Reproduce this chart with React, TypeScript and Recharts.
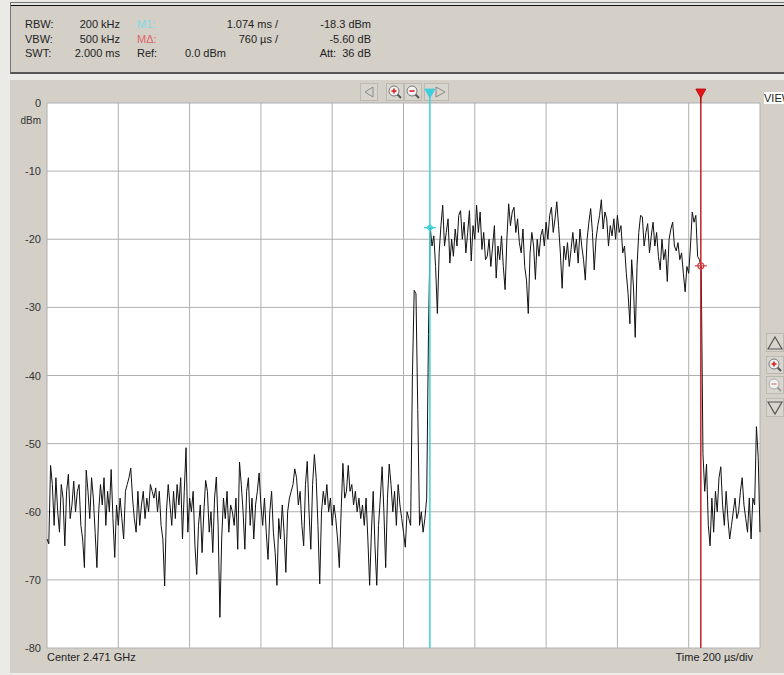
import React from 'react';
import { LineChart, Line, XAxis, YAxis, CartesianGrid, ReferenceLine, ReferenceDot } from 'recharts';

// sweep: 2.000 ms, 401 points (5 µs step)
const SWEEP_STEP_US = 5;

// trace levels in dBm
const noiseBefore = [
  -64, -64.7, -53.2, -56, -62, -55, -60, -63, -56, -58,
  -65, -57, -54.5, -61, -59, -55.5, -60, -57, -56, -62,
  -64, -68.2, -53.9, -57, -61, -55, -58, -63, -68.2, -60,
  -56, -59, -55, -62, -57, -60, -53.8, -61, -66.7, -59,
  -62, -58, -61, -64, -57, -56, -55, -53.6, -58, -61,
  -63, -57, -62, -59, -57, -61, -58, -60, -56, -57,
  -58, -56.5, -60, -57, -62, -64, -70.9, -60, -56, -59,
  -62, -57, -61, -56, -59, -55, -64, -57, -50.6, -63,
  -58, -60, -57, -65, -69.2, -62, -59, -66, -60, -55.4,
  -57, -63, -60, -66, -58, -54.9, -62, -75.5, -64, -58,
  -61, -57, -63, -59, -60, -62, -58, -65.5, -52.7, -56,
  -60, -65.5, -57, -55, -62, -58, -64, -59, -57, -54.3,
  -59, -62, -58, -63, -67, -60, -57, -63, -66, -70.8,
  -61, -64, -59, -63, -68.9, -60, -58, -57, -56, -53.7,
  -55, -59, -57, -62, -65, -56, -52.6, -60, -65.5, -56,
  -51.6, -55, -62, -70.6, -60, -57, -59, -56, -60, -58,
  -62, -59, -61, -64, -68.2, -60, -52.9, -58, -57, -53.2,
  -57, -56, -59, -57, -60, -58, -61, -59, -62, -58,
  -64, -70.8, -63, -57, -65, -70.8, -62, -58, -53.4, -60,
  -68.2, -58, -53, -56, -60, -57, -62, -56, -59, -61,
  -63, -65.2, -60, -61, -62,
];
const burstEdge = [-40, -27.5, -28, -45, -62, -60, -63, -61, -58, -34, -18.3];
const signalOn = [
  -21, -19.5, -24, -30.9, -22, -18, -15, -21, -19, -17,
  -23.5, -20, -22.5, -18.5, -21, -16.5, -15.8, -20, -17.5, -22,
  -19, -15.8, -23.2, -18, -20, -15, -19, -16, -21.5, -19,
  -23, -22.5, -20, -24, -21, -18, -25.7, -21, -23, -19.5,
  -24, -27.4, -20, -14.8, -18, -16, -15.3, -19, -17, -20.5,
  -22, -18.5, -24, -26, -30.9, -22, -19, -21, -25.9, -20,
  -22.5, -19.5, -18.5, -21, -17.5, -20, -16.5, -15.3, -19, -17,
  -14.5, -18, -22, -27.2, -21, -23, -20.5, -24, -21.5, -19,
  -22, -20, -23.5, -18.5, -21, -23, -26, -20, -17.5, -15.5,
  -19, -24.5, -20, -18, -16.5, -14.2, -18.5, -16, -17, -21,
  -18, -19.5, -17, -20, -16.5, -19, -18, -22, -21, -25,
  -28, -32.4, -23, -27, -34.4, -24, -19, -16.5, -16.7, -21,
  -19, -17.7, -22, -19.5, -17.5, -21, -19, -22.5, -24.5, -20,
  -23, -21.5, -26.2, -20, -18.5, -17.5, -21, -21.7, -20.5, -23,
  -22, -25, -27.7, -24, -25, -21, -16, -17.5, -16.5, -22.5, -23,
];
const afterBurst = [
  -24, -51.5, -57, -53, -62, -65, -58, -63, -57, -60,
  -55, -53.4, -59, -62, -57, -61, -64, -62, -60, -58,
  -61, -60, -57, -55, -59, -61, -63, -58, -64, -58,
  -59, -47.5, -52, -63,
];

const levelDbm = [...noiseBefore, ...burstEdge, ...signalOn, ...afterBurst];
const traceData = levelDbm.map((v, i) => ({ t: i * SWEEP_STEP_US, v }));

const timeTicksUs = [0, 200, 400, 600, 800, 1000, 1200, 1400, 1600, 1800, 2000];
const levelTicksDbm = [0, -10, -20, -30, -40, -50, -60, -70, -80];

const marker1 = { t: 1074, level: -18.3 };
const markerDelta = { t: 1834, level: -23.9 };

const FONT = '"Liberation Sans", Arial, sans-serif';
const PANEL = '#d4d0c8';
const CYAN = '#3fcfdc';
const RED = '#c8202a';

const LevelTick = (props: any) => {
  const { x, y, payload } = props;
  return (
    <g>
      <text x={x} y={y} dy={4} textAnchor="end" fontSize={11} fill="#333" fontFamily={FONT}>
        {payload.value}
      </text>
      {payload.value === 0 && (
        <text x={x} y={y} dy={21} textAnchor="end" fontSize={10} fill="#333" fontFamily={FONT}>
          dBm
        </text>
      )}
    </g>
  );
};

const markerFlag = (color: string, fill: string) => (props: any) => {
  const vb = props.viewBox || {};
  const x = vb.x;
  const top = vb.y;
  if (x == null || top == null) return null;
  return (
    <g>
      <line x1={x} x2={x} y1={top - 7} y2={top} stroke={color} strokeWidth={1.5} />
      <polygon points={`${x - 5},${top - 14} ${x + 5},${top - 14} ${x},${top - 5}`} fill={fill} stroke={color} strokeWidth={0.8} />
    </g>
  );
};

const M1Dot = (props: any) => {
  const { cx, cy } = props;
  return (
    <g stroke={CYAN} strokeWidth={1.3} fill="none">
      <line x1={cx - 6} x2={cx + 6} y1={cy} y2={cy} />
      <polygon points={`${cx},${cy - 3} ${cx + 3},${cy} ${cx},${cy + 3} ${cx - 3},${cy}`} />
    </g>
  );
};

const DeltaDot = (props: any) => {
  const { cx, cy } = props;
  return (
    <g stroke="#d04040" strokeWidth={1.2} fill="none">
      <circle cx={cx} cy={cy} r={3} />
      <line x1={cx - 6} x2={cx + 6} y1={cy} y2={cy} />
    </g>
  );
};

const Btn = ({ left, top, w, h, children }: any) => (
  <div style={{ position: 'absolute', left, top, width: w, height: h, boxSizing: 'border-box', border: '1px solid #bcb9b1', background: '#d8d5ce' }}>
    <svg width={w - 2} height={h - 2} style={{ display: 'block' }}>{children}</svg>
  </div>
);

const Magnifier = ({ plus, faded }: { plus: boolean; faded?: boolean }) => (
  <g>
    <line x1={10} y1={10} x2={14} y2={14} stroke={faded ? '#999' : '#555'} strokeWidth={2} />
    <circle cx={7} cy={7} r={5} fill="#f2f2f2" stroke={faded ? '#aaa' : '#777'} strokeWidth={1} />
    <line x1={4.5} y1={7} x2={9.5} y2={7} stroke={faded ? '#d99' : '#e02020'} strokeWidth={1.6} />
    {plus && <line x1={7} y1={4.5} x2={7} y2={9.5} stroke="#e02020" strokeWidth={1.6} />}
  </g>
);

const hdr: React.CSSProperties = { position: 'absolute', fontFamily: FONT, fontSize: 11, color: '#222', whiteSpace: 'nowrap', lineHeight: '13px' };

export default function App() {
  return (
    <div style={{ position: 'absolute', left: 0, top: 0, width: 784, height: 675, overflow: 'hidden', background: '#eceae6' }}>
      {/* header */}
      <div style={{ position: 'absolute', left: 10, top: 2, width: 774, height: 72, boxSizing: 'border-box', background: PANEL, borderTop: '1px solid #777', borderLeft: '1px solid #777', borderBottom: '2px solid #555' }} />
      <div style={{ position: 'absolute', left: 11, top: 3, width: 773, height: 2, background: '#e6e4df' }} />
      <div style={{ position: 'absolute', left: 11, top: 5, width: 773, height: 1, background: '#111' }} />

      <div style={{ ...hdr, left: 25, top: 18 }}>RBW:</div>
      <div style={{ ...hdr, left: 25, top: 33 }}>VBW:</div>
      <div style={{ ...hdr, left: 25, top: 47 }}>SWT:</div>
      <div style={{ ...hdr, right: 784 - 120, top: 18 }}>200 kHz</div>
      <div style={{ ...hdr, right: 784 - 120, top: 33 }}>500 kHz</div>
      <div style={{ ...hdr, right: 784 - 120, top: 47 }}>2.000 ms</div>
      <div style={{ ...hdr, left: 137, top: 18, color: '#7fd9e6' }}>M1:</div>
      <div style={{ ...hdr, left: 137, top: 33, color: '#e06464' }}>MΔ:</div>
      <div style={{ ...hdr, left: 137, top: 47 }}>Ref:</div>
      <div style={{ ...hdr, right: 784 - 278, top: 18 }}>1.074 ms /</div>
      <div style={{ ...hdr, right: 784 - 278, top: 33 }}>760 µs /</div>
      <div style={{ ...hdr, left: 185, top: 47 }}>0.0 dBm</div>
      <div style={{ ...hdr, right: 784 - 371, top: 18 }}>-18.3 dBm</div>
      <div style={{ ...hdr, right: 784 - 371, top: 33 }}>-5.60 dB</div>
      <div style={{ ...hdr, right: 784 - 371, top: 47 }}>Att:&nbsp;&nbsp;36 dB</div>

      {/* chart panel */}
      <div style={{ position: 'absolute', left: 10, top: 80, width: 774, height: 593, background: PANEL }} />

      {/* toolbar */}
      <Btn left={360} top={83} w={18} h={18}>
        <polygon points="12,3 12,13 4,8" fill="none" stroke="#888" strokeWidth={1} />
      </Btn>
      <Btn left={386} top={83} w={18} h={18}><Magnifier plus /></Btn>
      <Btn left={404} top={83} w={18} h={18}><Magnifier plus={false} /></Btn>
      <Btn left={424} top={83} w={25} h={18}>
        <polygon points="11,3 11,13 20,8" fill="none" stroke="#888" strokeWidth={1} />
      </Btn>

      {/* right side controls */}
      <div style={{ position: 'absolute', left: 764, top: 92, width: 30, height: 12, background: '#fff', fontFamily: FONT, fontSize: 11, lineHeight: '12px', color: '#222' }}>VIEW</div>
      <Btn left={766} top={333} w={18} h={19}>
        <polygon points="8,3 15,15 1,15" fill="none" stroke="#555" strokeWidth={1.2} />
      </Btn>
      <Btn left={766} top={356} w={18} h={18}><Magnifier plus /></Btn>
      <Btn left={766} top={376} w={18} h={18}><Magnifier plus={false} faded /></Btn>
      <Btn left={766} top={398} w={18} h={19}>
        <polygon points="1,3 15,3 8,15" fill="none" stroke="#555" strokeWidth={1.2} />
      </Btn>

      {/* bottom labels */}
      <div style={{ ...hdr, left: 47, top: 651 }}>Center 2.471 GHz</div>
      <div style={{ ...hdr, right: 784 - 753, top: 651 }}>Time 200 µs/div</div>

      <div style={{ position: 'absolute', left: 0, top: 0 }}>
        <LineChart width={784} height={675} data={traceData} margin={{ top: 103, right: 24, bottom: 27, left: 10 }}>
          <CartesianGrid stroke="#b0b0b0" strokeWidth={1} fill="#ffffff" />
          <XAxis type="number" dataKey="t" domain={[0, 2000]} ticks={timeTicksUs} hide />
          <YAxis
            type="number"
            domain={[-80, 0]}
            ticks={levelTicksDbm}
            width={37}
            tickLine={false}
            axisLine={false}
            tickSize={0}
            tickMargin={6}
            tick={<LevelTick />}
            interval={0}
          />
          <Line type="linear" dataKey="v" stroke="#111" strokeWidth={1} dot={false} isAnimationActive={false} />
          <ReferenceLine x={marker1.t} stroke={CYAN} strokeWidth={1.5} label={markerFlag(CYAN, CYAN)} />
          <ReferenceLine x={markerDelta.t} stroke={RED} strokeWidth={1.5} label={markerFlag('#b00000', '#e8141c')} />
          <ReferenceDot x={marker1.t} y={marker1.level} shape={<M1Dot />} />
          <ReferenceDot x={markerDelta.t} y={markerDelta.level} shape={<DeltaDot />} />
        </LineChart>
      </div>
    </div>
  );
}
